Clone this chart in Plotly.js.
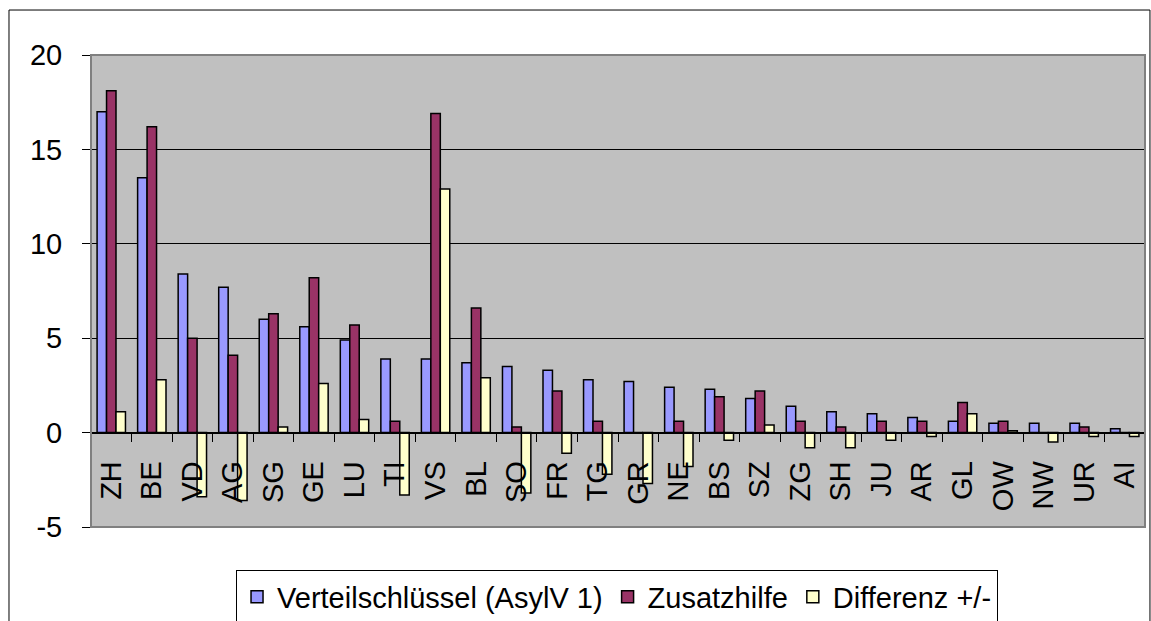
<!DOCTYPE html>
<html>
<head>
<meta charset="utf-8">
<script src="https://cdn.plot.ly/plotly-3.0.1.min.js"></script>
<style>
	body { margin: 0; padding: 0; background: #ffffff; }
	#chart { width: 1151px; height: 621px; }
</style>
</head>
<body>
<div id="chart"></div>
<script>
"use strict";
var cantons = ['ZH','BE','VD','AG','SG','GE','LU','TI','VS','BL','SO','FR','TG','GR','NE','BS','SZ','ZG','SH','JU','AR','GL','OW','NW','UR','AI'];
var verteilschluessel = [17.0,13.5,8.4,7.7,6.0,5.6,4.9,3.9,3.9,3.7,3.5,3.3,2.8,2.7,2.4,2.3,1.8,1.4,1.1,1.0,0.8,0.6,0.5,0.5,0.5,0.2];
var zusatzhilfe = [18.1,16.2,5.0,4.1,6.3,8.2,5.7,0.6,16.9,6.6,0.3,2.2,0.6,0,0.6,1.9,2.2,0.6,0.3,0.6,0.6,1.6,0.6,0,0.3,0];
var differenz = [1.1,2.8,-3.4,-3.6,0.3,2.6,0.7,-3.3,12.9,2.9,-3.2,-1.1,-2.2,-2.7,-1.8,-0.4,0.4,-0.8,-0.8,-0.4,-0.2,1.0,0.1,-0.5,-0.2,-0.2];
var yTicks = [-5, 0, 5, 10, 15, 20];
var yTickText = ['-5', '0', '5', '10', '15', '20'];

var font = 'Liberation Sans, Arial, sans-serif';

function barTrace(name, values, color) {
	return {
		x: cantons,
		y: values,
		name: name,
		type: 'bar',
		marker: {
			color: color,
			line: { color: '#000000', width: 1.5 }
		},
		hoverinfo: 'x+y'
	};
}

var data = [
	barTrace('Verteilschlüssel (AsylV 1)', verteilschluessel, '#9999ff'),
	barTrace('Zusatzhilfe', zusatzhilfe, '#993366'),
	barTrace('Differenz +/-', differenz, '#ffffcc')
];

var layout = {
	width: 1151,
	height: 621,
	margin: { l: 91, r: 6, t: 55, b: 94, autoexpand: false },
	paper_bgcolor: '#ffffff',
	plot_bgcolor: '#c0c0c0',
	font: { family: font, size: 29, color: '#000000' },
	barmode: 'group',
	bargap: 0.3,
	bargroupgap: 0,
	showlegend: true,
	legend: {
		orientation: 'h',
		x: 0.1376,
		xanchor: 'left',
		y: -0.092,
		yanchor: 'top',
		bgcolor: '#ffffff',
		bordercolor: '#000000',
		borderwidth: 1,
		font: { family: font, size: 29, color: '#000000' },
		itemwidth: 30,
		traceorder: 'normal'
	},
	xaxis: {
		type: 'category',
		anchor: 'free',
		position: 0.2,
		showline: true,
		linecolor: '#000000',
		linewidth: 1,
		showgrid: false,
		ticks: 'outside',
		tickson: 'boundaries',
		ticklen: 8,
		tickcolor: '#000000',
		tickangle: -90,
		ticklabelstandoff: 16,
		tickfont: { family: font, size: 29, color: '#000000' }
	},
	yaxis: {
		range: [-5, 20],
		tickvals: yTicks,
		ticktext: yTickText,
		showline: true,
		linecolor: '#000000',
		linewidth: 1,
		showgrid: true,
		gridcolor: '#000000',
		gridwidth: 1,
		zeroline: true,
		zerolinecolor: '#000000',
		zerolinewidth: 1,
		ticks: 'outside',
		ticklen: 8,
		tickcolor: '#000000',
		ticklabelstandoff: 14,
		tickfont: { family: font, size: 29, color: '#000000' }
	},
	shapes: [
		// plot area frame
		{ type: 'rect', xref: 'paper', yref: 'paper', x0: 0, x1: 1, y0: 0, y1: 1,
			line: { color: '#808080', width: 2 }, layer: 'above' },
		// chart area frame
		{ type: 'rect', xref: 'paper', yref: 'paper', x0: -0.0778, x1: 1.0047, y0: -0.3, y1: 1.0953,
			line: { color: '#000000', width: 1 }, layer: 'below' }
	]
};

Plotly.newPlot(document.getElementById('chart'), data, layout, { displayModeBar: false, staticPlot: true });
</script>
</body>
</html>
